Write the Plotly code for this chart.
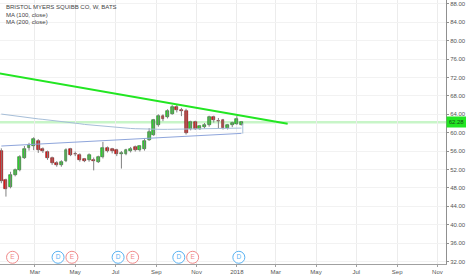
import pandas as pd
import plotly.graph_objects as go

# ---------------- data ----------------
week_dates = pd.date_range("2017-01-09", periods=53, freq="7D")

opens = [56.0, 49.7, 48.2, 50.8, 51.85, 54.5, 56.7, 57.1, 58.3, 56.5,
         55.7, 54.5, 53.5, 52.9, 53.8, 56.4, 55.4, 55.1, 54.2, 54.0,
         54.0, 53.7, 54.7, 56.7, 56.4, 56.2, 55.4, 55.45, 56.0, 56.9,
         56.2, 56.4, 58.5, 59.6, 61.6, 63.6, 63.4, 64.1, 65.5, 64.9,
         64.8, 60.9, 62.3, 60.9, 61.2, 61.6, 63.4, 62.6, 62.8, 61.0,
         61.6, 61.95, 61.7]
highs = [56.6, 50.0, 51.5, 52.2, 55.1, 57.1, 57.8, 59.0, 58.6, 56.8,
         56.1, 54.8, 53.8, 54.0, 56.6, 56.7, 55.9, 55.5, 54.5, 55.5,
         54.6, 55.0, 58.0, 57.0, 56.7, 56.5, 56.0, 56.5, 56.9, 57.2,
         57.3, 58.6, 61.0, 63.0, 64.0, 64.0, 65.1, 66.0, 66.1, 65.4,
         65.2, 62.6, 62.6, 61.7, 62.1, 63.7, 63.7, 63.2, 63.0, 61.9,
         62.4, 63.6, 62.5]
lows = [49.0, 46.1, 47.9, 50.5, 51.6, 54.3, 56.1, 56.2, 55.6, 55.6,
        54.1, 53.0, 52.6, 52.6, 53.6, 54.9, 54.9, 53.7, 53.6, 53.7,
        51.8, 53.4, 54.4, 55.7, 55.5, 54.9, 52.2, 55.1, 55.7, 55.9,
        55.9, 56.1, 58.2, 59.3, 61.3, 62.5, 63.1, 63.9, 64.4, 63.6,
        59.6, 60.5, 60.6, 60.6, 60.9, 61.3, 62.2, 60.8, 60.7, 60.7,
        61.2, 61.7, 61.6]
closes = [49.4, 47.7, 50.9, 51.85, 54.7, 56.5, 57.4, 58.55, 56.2, 55.95,
          54.5, 53.3, 52.9, 53.6, 56.2, 55.2, 55.3, 54.0, 53.9, 55.1,
          53.9, 54.7, 56.7, 56.0, 56.0, 55.3, 55.5, 56.2, 56.5, 56.2,
          57.0, 58.3, 60.1, 62.7, 63.7, 62.9, 64.8, 65.5, 64.9, 64.8,
          59.9, 62.3, 60.9, 61.4, 61.7, 63.4, 62.8, 62.5, 61.0, 61.6,
          62.1, 63.0, 62.28]

ma100 = [64.05, 63.9, 63.8, 63.65, 63.5, 63.4, 63.25, 63.1, 63.0, 62.9,
         62.8, 62.7, 62.55, 62.45, 62.3, 62.2, 62.05, 61.95, 61.8, 61.7,
         61.6, 61.5, 61.4, 61.3, 61.2, 61.12, 61.05, 60.98, 60.92, 60.87,
         60.82, 60.78, 60.75, 60.73, 60.72, 60.72, 60.73, 60.74, 60.75, 60.76,
         60.77, 60.78, 60.8, 60.82, 60.84, 60.86, 60.88, 60.9, 60.92, 60.94,
         60.96, 60.98, 61.0]
ma200 = [57.1, 57.15, 57.2, 57.25, 57.3, 57.35, 57.4, 57.45, 57.5, 57.55,
         57.6, 57.65, 57.7, 57.75, 57.8, 57.85, 57.9, 57.95, 58.0, 58.05,
         58.1, 58.15, 58.2, 58.25, 58.3, 58.35, 58.45, 58.5, 58.55, 58.6,
         58.7, 58.75, 58.8, 58.9, 58.95, 59.0, 59.05, 59.1, 59.15, 59.2,
         59.25, 59.3, 59.35, 59.4, 59.45, 59.5, 59.55, 59.6, 59.65, 59.7,
         59.75, 59.8, 59.85]

trend_dates = ["2017-01-02", "2018-03-19"]
trend_values = [73.0, 61.95]

range_mark_dates = ["2018-01-10", "2018-01-10"]
range_mark_values = [59.8, 62.0]

event_dates = ["2017-01-26", "2017-04-05", "2017-04-26", "2017-07-05",
               "2017-07-27", "2017-10-05", "2017-10-26", "2018-01-04"]
event_types = ["E", "D", "E", "D", "E", "D", "E", "D"]

y_ticks = [32, 36, 40, 44, 48, 52, 56, 60, 64, 68, 72, 76, 80, 84, 88]
x_tick_dates = ["2017-03-01", "2017-05-01", "2017-07-01", "2017-09-01",
                "2017-11-01", "2018-01-01", "2018-03-01", "2018-05-01",
                "2018-07-01", "2018-09-01", "2018-11-01"]
x_tick_labels = ["Mar", "May", "Jul", "Sep", "Nov", "2018",
                 "Mar", "May", "Jul", "Sep", "Nov"]

title_lines = ["BRISTOL MYERS SQUIBB CO, W, BATS", "MA (100, close)", "MA (200, close)"]

# ---------------- styling ----------------
FONT = "Liberation Sans"
UP_FILL, UP_LINE = "#2fe22f", "#1f5f1f"
DN_FILL, DN_LINE = "#e81a1a", "#6a1010"
WICK = "#808080"
MA100_C = "#a6bed8"
MA200_C = "#8ea5db"
TREND_C = "#22e622"
EVENT_LEVEL = 32.9
BODY_W_MS = 4.4 * 86400000

fig = go.Figure()

# wicks
wx, wy = [], []
for d, h, l in zip(week_dates, highs, lows):
    wx += [d, d, None]
    wy += [l, h, None]
fig.add_trace(go.Scatter(x=wx, y=wy, mode="lines",
                         line=dict(color=WICK, width=1), hoverinfo="skip",
                         showlegend=False))

# bodies
for up in (True, False):
    xs, bases, heights = [], [], []
    for d, o, c in zip(week_dates, opens, closes):
        if (c >= o) == up:
            xs.append(d)
            bases.append(min(o, c))
            heights.append(max(abs(c - o), 0.08))
    fig.add_trace(go.Bar(
        x=xs, y=heights, base=bases, width=BODY_W_MS,
        marker=dict(color=UP_FILL if up else DN_FILL,
                    line=dict(color=UP_LINE if up else DN_LINE, width=0.6)),
        showlegend=False, hoverinfo="skip"))

# moving averages
fig.add_trace(go.Scatter(x=week_dates, y=ma100, mode="lines",
                         line=dict(color=MA100_C, width=1), showlegend=False))
fig.add_trace(go.Scatter(x=week_dates, y=ma200, mode="lines",
                         line=dict(color=MA200_C, width=1), showlegend=False))
fig.add_trace(go.Scatter(x=range_mark_dates, y=range_mark_values, mode="lines",
                         line=dict(color=MA100_C, width=1), showlegend=False))

# trend line
fig.add_trace(go.Scatter(x=trend_dates, y=trend_values, mode="lines",
                         line=dict(color=TREND_C, width=2), showlegend=False))

# events
ev_colors = ["#f08a8a" if t == "E" else "#5ab2f2" for t in event_types]
fig.add_trace(go.Scatter(
    x=event_dates, y=[EVENT_LEVEL] * len(event_dates), mode="markers+text",
    text=event_types, textposition="middle center",
    textfont=dict(family=FONT, size=6.5, color=ev_colors),
    marker=dict(symbol="circle", size=12, color="white",
                line=dict(color=ev_colors, width=1)),
    showlegend=False, hoverinfo="skip"))

last_close = closes[-1]

fig.update_layout(
    width=466, height=275,
    margin=dict(l=0, r=19, t=0, b=9),
    paper_bgcolor="white", plot_bgcolor="white",
    barmode="overlay", bargap=0,
    font=dict(family=FONT, size=6, color="#555"),
    shapes=[dict(type="line", xref="paper", x0=0, x1=1, yref="y",
                 y0=last_close, y1=last_close,
                 line=dict(color="#c8f5c8", width=2.5), layer="below")],
    annotations=[
        dict(xref="paper", yref="paper", x=0.008, y=1 - (7 + 7.8 * i) / 266,
             text=t, showarrow=False, xanchor="left", yanchor="middle",
             font=dict(family=FONT, size=6, color="#444"))
        for i, t in enumerate(title_lines)
    ] + [
        dict(xref="paper", yref="y", x=1, y=last_close, text=f"{last_close:.2f}",
             showarrow=False, xanchor="left", yanchor="middle", xshift=0,
             bgcolor="#22e622", borderpad=2, width=15,
             font=dict(family=FONT, size=6, color="#1a4d1a"))
    ],
)

fig.update_xaxes(
    type="date", range=["2017-01-07", "2018-11-14"],
    tickvals=x_tick_dates, ticktext=x_tick_labels,
    showgrid=True, gridcolor="#ececec", gridwidth=1,
    showline=True, linecolor="#a0a0a0", linewidth=1,
    ticks="outside", ticklen=2, tickcolor="#a0a0a0",
    tickfont=dict(family=FONT, size=6, color="#555"),
    zeroline=False, fixedrange=True,
)
fig.update_yaxes(
    side="right", range=[31.44, 88.86],
    tickvals=y_ticks, ticktext=[f"{v:.2f}" for v in y_ticks],
    showgrid=True, gridcolor="#f2f2f2", gridwidth=1,
    showline=True, linecolor="#909090", linewidth=1,
    ticks="outside", ticklen=2, tickcolor="#909090",
    tickfont=dict(family=FONT, size=6, color="#555"),
    zeroline=False, fixedrange=True,
)

fig.write_html("out.html", config={"displayModeBar": False})
